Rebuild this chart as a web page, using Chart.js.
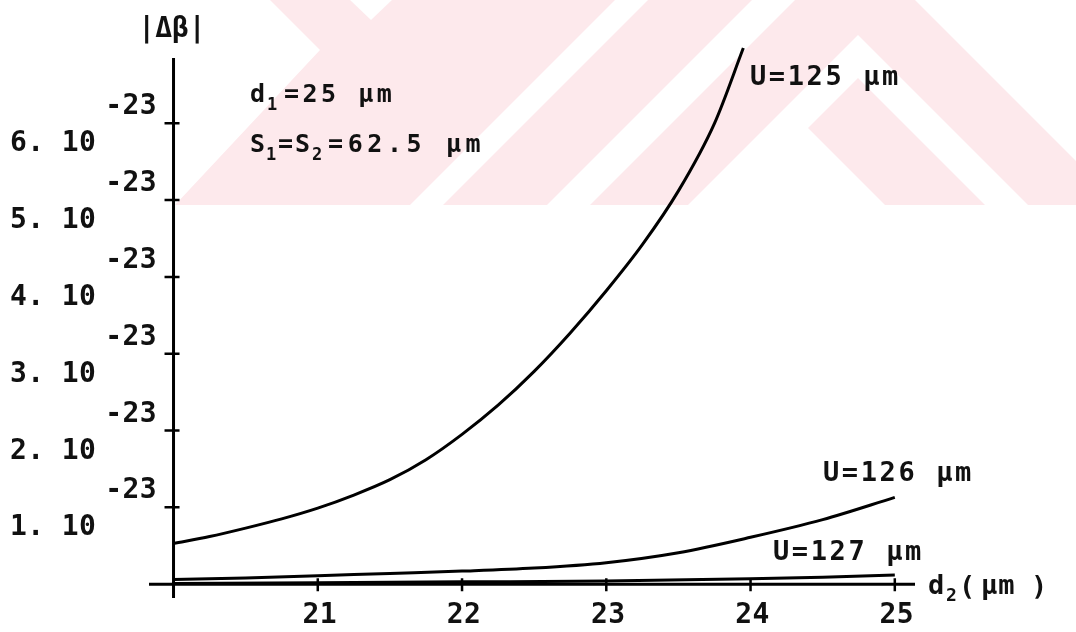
<!DOCTYPE html>
<html>
<head>
<meta charset="utf-8">
<script src="https://cdn.jsdelivr.net/npm/chart.js@4.4.0/dist/chart.umd.min.js"></script>
<style>
  html, body { margin: 0; padding: 0; background: #fff; }
  #wrap { width: 1076px; height: 632px; position: relative; }
</style>
</head>
<body>
<div id="wrap"><canvas id="chart"></canvas></div>
<script>
// |Δβ| against d2 (μm); values are in units of 10^-23
const d2U125 = [20, 20.25, 20.5, 20.75, 21, 21.25, 21.5, 21.75, 22, 22.25, 22.5, 22.75, 23, 23.25, 23.5, 23.75, 23.95];
const dbU125 = [0.53, 0.62, 0.73, 0.85, 0.99, 1.16, 1.36, 1.62, 1.95, 2.33, 2.77, 3.27, 3.82, 4.42, 5.12, 6.0, 6.98];

const d2U126 = [20, 20.5, 21, 21.5, 22, 22.5, 23, 23.5, 24, 24.5, 25];
const dbU126 = [0.06, 0.08, 0.11, 0.14, 0.17, 0.21, 0.28, 0.41, 0.61, 0.84, 1.13];

const d2U127 = [20, 21, 22, 23, 24, 24.5, 25];
const dbU127 = [0.01, 0.02, 0.03, 0.04, 0.07, 0.09, 0.12];

const xTicks = [21, 22, 23, 24, 25];
const yTicks = [1, 2, 3, 4, 5, 6];
const yTickMantissa = ['1.', '2.', '3.', '4.', '5.', '6.'];
const yTickExponent = '-23';

const MONO = '"DejaVu Sans Mono", monospace';
const PINK = '#fde9ec';

function toPoints(xs, ys) {
    return xs.map((x, i) => ({ x: x, y: ys[i] }));
}

function poly(ctx, pts, color) {
    ctx.beginPath();
    ctx.moveTo(pts[0][0], pts[0][1]);
    for (let i = 1; i < pts.length; i++) ctx.lineTo(pts[i][0], pts[i][1]);
    ctx.closePath();
    ctx.fillStyle = color;
    ctx.fill();
}

function text(ctx, str, x, y, size, spacing, align) {
    ctx.font = 'bold ' + size + 'px ' + MONO;
    ctx.letterSpacing = (spacing || 0) + 'px';
    ctx.textAlign = align || 'left';
    ctx.fillStyle = '#111';
    ctx.fillText(str, x, y);
}

// pale chevron pattern behind the top of the plot
const watermark = {
    id: 'watermark',
    beforeDraw(chart) {
        const ctx = chart.ctx;
        ctx.save();
        ctx.beginPath();
        ctx.rect(174, 0, 902, 205);
        ctx.clip();
        poly(ctx, [[270, 0], [320, 50], [175, 205], [1076, 205], [1076, 0]], PINK);
        // white stripes and chevrons cut out of it
        poly(ctx, [[350, 0], [392, 0], [371, 20]], '#fff');
        poly(ctx, [[410, 205], [443, 205], [648, 0], [615, 0]], '#fff');
        poly(ctx, [[547, 205], [590, 205], [795, 0], [752, 0]], '#fff');
        poly(ctx, [[688, 205], [858, 35], [1028, 205], [985, 205], [858, 78], [731, 205]], '#fff');
        poly(ctx, [[691, 205], [788, 108], [885, 205]], '#fff');
        poly(ctx, [[915, 0], [1076, 0], [1076, 161]], '#fff');
        ctx.restore();
    }
};

// axes, ticks and all lettering
const axesAndLabels = {
    id: 'axesAndLabels',
    afterDraw(chart) {
        const ctx = chart.ctx;
        const xs = chart.scales.x;
        const ys = chart.scales.y;
        const x0 = xs.getPixelForValue(20);
        const y0 = ys.getPixelForValue(0);
        ctx.save();
        ctx.strokeStyle = '#000';
        ctx.lineWidth = 3;

        ctx.beginPath();
        ctx.moveTo(xs.left, y0);
        ctx.lineTo(xs.right, y0);
        ctx.moveTo(x0, ys.bottom);
        ctx.lineTo(x0, ys.top);
        ctx.stroke();

        ctx.lineWidth = 2.5;
        ctx.beginPath();
        xTicks.forEach(v => {
            const px = xs.getPixelForValue(v);
            ctx.moveTo(px, y0 - 6);
            ctx.lineTo(px, y0 + 7);
        });
        yTicks.forEach(v => {
            const py = ys.getPixelForValue(v);
            ctx.moveTo(x0 - 9, py);
            ctx.lineTo(x0 + 6, py);
        });
        ctx.stroke();

        xTicks.forEach(v => {
            text(ctx, String(v), xs.getPixelForValue(v) + 2, 623, 28, 0.4, 'center');
        });
        yTicks.forEach((v, i) => {
            const py = ys.getPixelForValue(v);
            text(ctx, yTickMantissa[i] + ' 10', 10, py + 28, 28, 0.4);
            text(ctx, yTickExponent, 157, py - 9, 28, 0.4, 'right');
        });

        // axis titles
        text(ctx, '|Δβ|', 172, 37, 28, 0, 'center');
        text(ctx, 'd', 928, 594, 27, 0);
        text(ctx, '2', 946, 601, 18, 0);
        text(ctx, '(', 959, 595, 27, 0);
        text(ctx, 'μm', 981, 594, 27, 1);
        text(ctx, ')', 1031, 595, 27, 0);

        // parameters
        text(ctx, 'd', 250, 102, 25, 0);
        text(ctx, '1', 267, 110, 17, 0);
        text(ctx, '=25 μm', 284, 102, 25, 3.5);
        text(ctx, 'S', 250, 152, 25, 0);
        text(ctx, '1', 266, 160, 17, 0);
        text(ctx, '=', 278, 152, 25, 0);
        text(ctx, 'S', 295, 152, 25, 0);
        text(ctx, '2', 312, 160, 17, 0);
        text(ctx, '=62.5 μm', 328, 152, 25, 4.6);

        // curve labels
        text(ctx, 'U=125 μm', 750, 85, 27, 2.6);
        text(ctx, 'U=126 μm', 823, 481, 27, 2.6);
        text(ctx, 'U=127 μm', 773, 560, 27, 2.6);
        ctx.restore();
    }
};

function series(label, xsArr, ysArr) {
    return {
        label: label,
        data: toPoints(xsArr, ysArr),
        borderColor: '#000',
        borderWidth: 3,
        pointRadius: 0,
        fill: false,
        cubicInterpolationMode: 'monotone',
        clip: false
    };
}

const ctx = document.getElementById('chart').getContext('2d');
const chart = new Chart(ctx, {
    type: 'line',
    data: {
        datasets: [
            series('U=125 μm', d2U125, dbU125),
            series('U=126 μm', d2U126, dbU126),
            series('U=127 μm', d2U127, dbU127)
        ]
    },
    options: {
        responsive: true,
        maintainAspectRatio: false,
        animation: false,
        layout: {
            padding: { left: 149, right: 161, top: 58, bottom: 34 }
        },
        plugins: {
            legend: { display: false },
            tooltip: { enabled: false }
        },
        scales: {
            x: {
                type: 'linear',
                min: 19.83,
                max: 25.14,
                display: false
            },
            y: {
                type: 'linear',
                min: -0.18,
                max: 6.85,
                display: false
            }
        }
    },
    plugins: [watermark, axesAndLabels]
});
</script>
</body>
</html>
